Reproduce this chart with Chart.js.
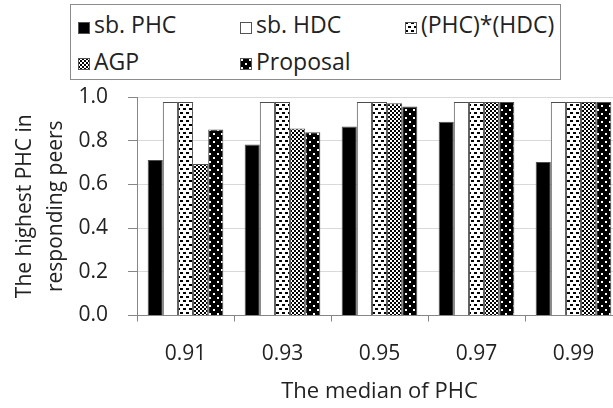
<!DOCTYPE html>
<html>
<head>
<meta charset="utf-8">
<script src="https://cdn.jsdelivr.net/npm/chart.js@4/dist/chart.umd.min.js"></script>
<style>
html,body{margin:0;padding:0;background:#fff;overflow:hidden;width:613px;height:408px}
#wrap{position:relative;width:626px;height:408px}
#chart{position:absolute;left:0;top:0}
#legend{position:absolute;left:70px;top:4px;width:489px;height:74px;border:1px solid #8c8c8c;background:#fff;font-family:"Open Sans";font-size:23px;color:#222}
.sw{position:absolute;width:12px;height:12px}
.lt{position:absolute;line-height:25px;white-space:nowrap}
</style>
</head>
<body>
<div id="wrap">
  <canvas id="chart" width="626" height="408"></canvas>
  <div id="legend"></div>
</div>
<script>
// ---- data ----
const categories = ['0.91', '0.93', '0.95', '0.97', '0.99'];
const seriesNames = ['sb. PHC', 'sb. HDC', '(PHC)*(HDC)', 'AGP', 'Proposal'];
const sbPHC    = [0.712, 0.783, 0.865, 0.887, 0.703];
const sbHDC    = [0.977, 0.977, 0.977, 0.977, 0.977];
const phcHdc   = [0.977, 0.977, 0.977, 0.977, 0.977];
const agp      = [0.693, 0.856, 0.971, 0.977, 0.977];
const proposal = [0.851, 0.839, 0.957, 0.977, 0.977];
const yTicks   = [0.0, 0.2, 0.4, 0.6, 0.8, 1.0];
const xTitle   = 'The median of PHC';
const yTitle   = ['The highest PHC in', 'responding peers'];

// ---- fills ----
function tile(w, h, bg, fg, rects) {
  const c = document.createElement('canvas');
  c.width = w; c.height = h;
  const x = c.getContext('2d');
  x.fillStyle = bg; x.fillRect(0, 0, w, h);
  x.fillStyle = fg;
  rects.forEach(r => x.fillRect(r[0], r[1], r[2], r[3]));
  return c;
}
const tiles = [
  null,
  null,
  tile(6, 8, '#fff', '#000', [[0,0,3,2],[3,4,3,2]]),
  tile(4, 4, '#fff', '#000', [[0,0,2,2],[2,2,2,2]]),
  tile(8, 8, '#000', '#fff', [[1,1,2,2],[5,5,2,2]])
];
const plainFills = ['#000', '#fff', null, null, null];
const chartCtx = document.getElementById('chart').getContext('2d');
const fills = tiles.map((t, i) => t ? chartCtx.createPattern(t, 'repeat') : plainFills[i]);

// ---- legend (HTML, real text) ----
const legend = document.getElementById('legend');
const colX = [7, 169, 334];
const rowTop = [7, 43.5];
seriesNames.forEach((name, i) => {
  const col = i % 3, row = Math.floor(i / 3);
  const sw = document.createElement('canvas');
  sw.width = 12; sw.height = 12; sw.className = 'sw';
  sw.style.left = colX[col] + 'px';
  sw.style.top = (rowTop[row] + 9.5) + 'px';
  const sx = sw.getContext('2d');
  sx.fillStyle = tiles[i] ? sx.createPattern(tiles[i], 'repeat') : plainFills[i];
  sx.fillRect(0, 0, 12, 12);
  sx.strokeStyle = '#555'; sx.lineWidth = 1; sx.strokeRect(0.5, 0.5, 11, 11);
  legend.appendChild(sw);
  const t = document.createElement('div');
  t.className = 'lt';
  t.textContent = name;
  t.style.left = (colX[col] + 16) + 'px';
  t.style.top = rowTop[row] + 'px';
  legend.appendChild(t);
});

// ---- chart ----
const seriesData = [sbPHC, sbHDC, phcHdc, agp, proposal];
const FONT = 'Open Sans';
const axisGray = '#868686';
new Chart(chartCtx, {
  type: 'bar',
  data: {
    labels: categories,
    datasets: seriesData.map((d, i) => ({
      label: seriesNames[i],
      data: d,
      backgroundColor: fills[i],
      borderColor: '#4d4d4d',
      borderWidth: 1,
      borderSkipped: 'bottom',
      categoryPercentage: 0.78,
      barPercentage: 1.0
    }))
  },
  options: {
    responsive: false,
    animation: false,
    devicePixelRatio: 1,
    layout: { padding: { top: 97, right: 4, left: 0, bottom: 0 } },
    plugins: { legend: { display: false }, tooltip: { enabled: false } },
    scales: {
      x: {
        grid: { display: true, drawOnChartArea: false, drawTicks: true, tickLength: 6, tickColor: axisGray, offset: true },
        border: { display: true, color: axisGray, width: 1 },
        ticks: { font: { family: FONT, size: 21 }, color: '#222', padding: 20, maxRotation: 0 },
        title: { display: true, text: xTitle, font: { family: FONT, size: 22 }, color: '#222', padding: { top: 0, bottom: 3 } },
        afterFit: s => { s.height = 92.5; }
      },
      y: {
        min: 0, max: 1,
        afterBuildTicks: s => { s.ticks = yTicks.map(v => ({ value: v })); },
        grid: { color: '#d9d9d9', lineWidth: 1, tickLength: 9, tickColor: axisGray, drawTicks: true },
        border: { display: true, color: axisGray, width: 1 },
        ticks: { font: { family: FONT, size: 21 }, color: '#222', padding: 20, callback: v => Number(v).toFixed(1) },
        title: { display: true, text: yTitle, font: { family: FONT, size: 21, lineHeight: 1.45 }, color: '#222', padding: { top: 10, bottom: 0 } },
        afterFit: s => { s.width = 137; }
      }
    }
  }
});
</script>
</body>
</html>
